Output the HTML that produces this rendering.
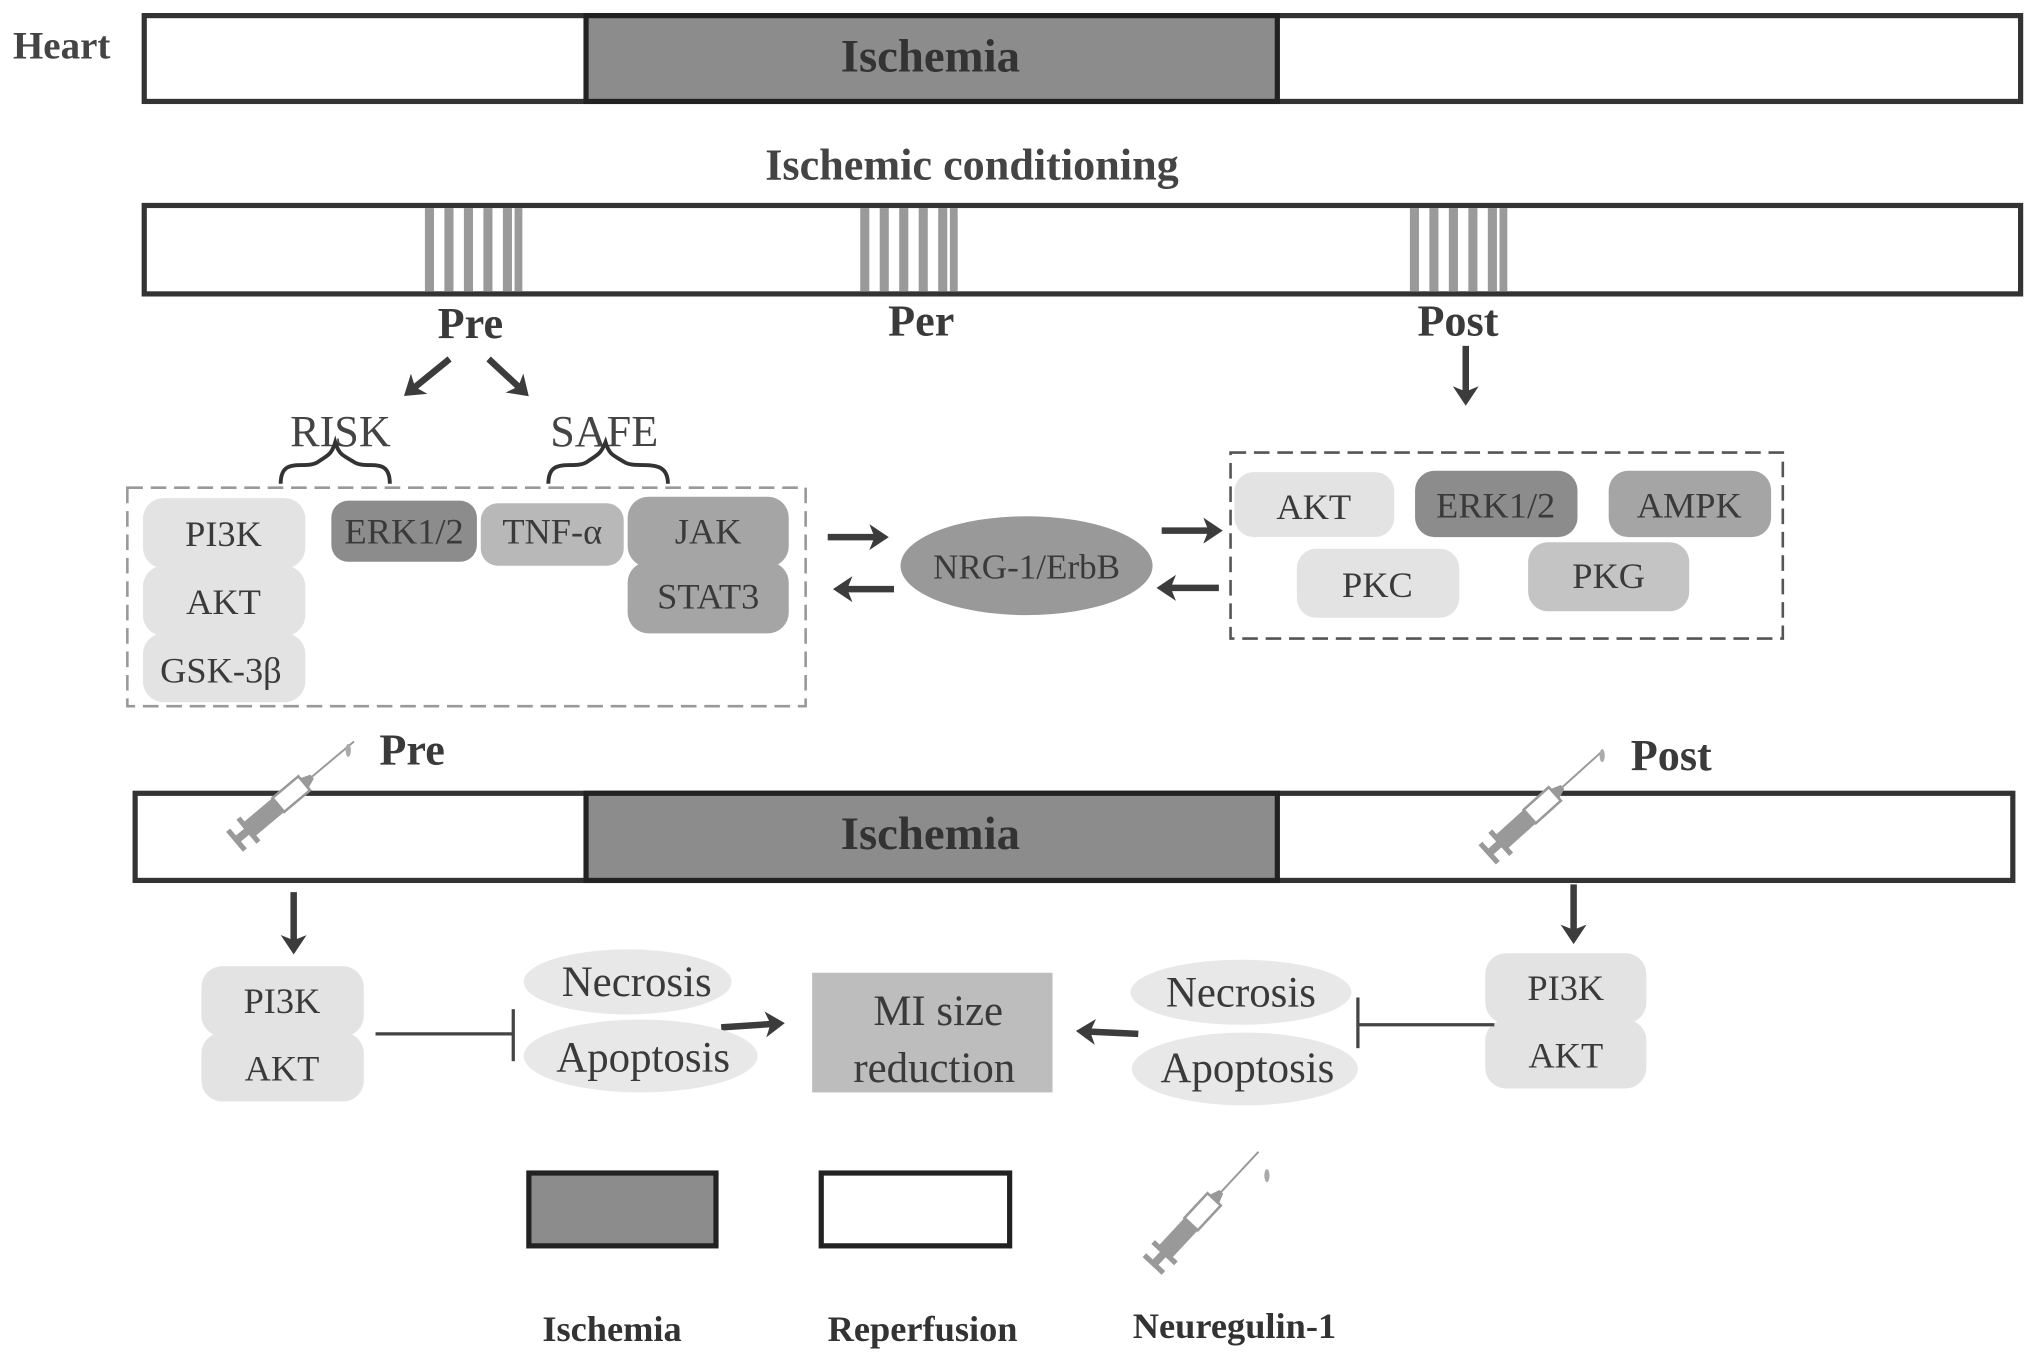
<!DOCTYPE html>
<html><head><meta charset="utf-8"><style>html,body{margin:0;padding:0;background:#fff}svg{display:block}</style></head>
<body>
<svg width="2031" height="1359" viewBox="0 0 1563 1045" preserveAspectRatio="none" xmlns="http://www.w3.org/2000/svg" font-family="Liberation Serif, serif">
<defs>
<marker id="ah" markerWidth="4" markerHeight="4" refX="2.2" refY="2" orient="auto" markerUnits="strokeWidth"><path d="M0,0 L3,2 L0,4 L0.8,2 Z" fill="#3c3c3c"/></marker>
<g id="syr">
<line x1="0" y1="-10" x2="0" y2="10" stroke="#999" stroke-width="4"/>
<rect x="0" y="-3" width="12" height="6" fill="#999"/>
<line x1="12" y1="-12" x2="12" y2="12" stroke="#999" stroke-width="4"/>
<rect x="12" y="-7" width="30" height="14" fill="#999"/>
<rect x="42" y="-7" width="26" height="14" fill="#fff" stroke="#999" stroke-width="2"/>
<path d="M68,-5 L76,-2 L76,2 L68,5 Z" fill="#999"/>
<line x1="76" y1="0" x2="118" y2="0" stroke="#999" stroke-width="1.5"/>
</g>
</defs>
<g fill="none" stroke="#333">
</g>
<!-- Heart bar -->
<text x="10" y="45" font-size="30" font-weight="bold" fill="#444">Heart</text>
<rect x="111" y="12" width="1444" height="66" fill="#fff" stroke="#333" stroke-width="4"/>
<rect x="451" y="12" width="532" height="66" fill="#8c8c8c" stroke="#222" stroke-width="4"/>
<text x="716" y="55" font-size="36" font-weight="bold" text-anchor="middle" fill="#333">Ischemia</text>

<text x="748" y="138" font-size="34" font-weight="bold" text-anchor="middle" fill="#444">Ischemic conditioning</text>
<rect x="111" y="158" width="1444" height="68" fill="#fff" stroke="#333" stroke-width="4"/>
<g fill="#9a9a9a">
<rect x="327" y="160" width="7" height="64"/><rect x="342" y="160" width="7" height="64"/><rect x="357" y="160" width="7" height="64"/><rect x="372" y="160" width="7" height="64"/><rect x="387" y="160" width="7" height="64"/><rect x="396" y="160" width="6" height="64"/>
<rect x="662" y="160" width="7" height="64"/><rect x="677" y="160" width="7" height="64"/><rect x="692" y="160" width="7" height="64"/><rect x="707" y="160" width="7" height="64"/><rect x="722" y="160" width="7" height="64"/><rect x="731" y="160" width="6" height="64"/>
<rect x="1085" y="160" width="7" height="64"/><rect x="1100" y="160" width="7" height="64"/><rect x="1115" y="160" width="7" height="64"/><rect x="1130" y="160" width="7" height="64"/><rect x="1145" y="160" width="7" height="64"/><rect x="1154" y="160" width="6" height="64"/>
</g>
<g font-size="34" font-weight="bold" fill="#3a3a3a" text-anchor="middle">
<text x="362" y="260">Pre</text><text x="709" y="258">Per</text><text x="1122" y="258">Post</text>
</g>
<g stroke="#3c3c3c" stroke-width="5" marker-end="url(#ah)" fill="none">
<line x1="346" y1="276" x2="314" y2="302"/>
<line x1="376" y1="276" x2="404" y2="302"/>
<line x1="1128" y1="266" x2="1128" y2="308"/>
<line x1="637" y1="413" x2="680" y2="413"/>
<line x1="688" y1="453" x2="645" y2="453"/>
<line x1="894" y1="408" x2="937" y2="408"/>
<line x1="938" y1="452" x2="894" y2="452"/>
<line x1="226" y1="686" x2="226" y2="730"/>
<line x1="1211" y1="680" x2="1211" y2="722"/>
<line x1="555" y1="790" x2="600" y2="787"/>
<line x1="876" y1="795" x2="832" y2="793"/>
</g>
<g font-size="34" fill="#444" text-anchor="middle"><text x="262" y="343">RISK</text><text x="465" y="343">SAFE</text></g>
<g fill="none" stroke="#333" stroke-width="3">
<path d="M216,372 C216,350 235,362 245,355 C252,350 255,350 258,340 C261,350 264,350 272,355 C282,362 300,350 300,372"/>
<path d="M422,372 C422,350 442,362 452,355 C459,350 462,350 466,340 C469,350 472,350 480,355 C490,362 514,350 514,372"/>
</g>
<rect x="98" y="375" width="522" height="168" fill="none" stroke="#999" stroke-width="2" stroke-dasharray="12 6"/>
<rect x="947" y="348" width="425" height="143" fill="none" stroke="#555" stroke-width="2" stroke-dasharray="12 6"/>
<g>
<rect x="110" y="383" width="125" height="54" rx="16" fill="#e3e3e3"/>
<rect x="110" y="435" width="125" height="54" rx="16" fill="#e3e3e3"/>
<rect x="110" y="487" width="125" height="53" rx="16" fill="#e3e3e3"/>
<rect x="255" y="385" width="112" height="47" rx="13" fill="#8c8c8c"/>
<rect x="370" y="387" width="110" height="48" rx="13" fill="#b8b8b8"/>
<rect x="483" y="382" width="124" height="54" rx="16" fill="#a5a5a5"/>
<rect x="483" y="432" width="124" height="55" rx="16" fill="#a5a5a5"/>
<ellipse cx="790" cy="435" rx="97" ry="38" fill="#999"/>
<rect x="950" y="363" width="123" height="50" rx="15" fill="#e3e3e3"/>
<rect x="1089" y="362" width="125" height="51" rx="15" fill="#8c8c8c"/>
<rect x="1238" y="362" width="125" height="51" rx="15" fill="#a5a5a5"/>
<rect x="998" y="422" width="125" height="53" rx="15" fill="#e3e3e3"/>
<rect x="1176" y="417" width="124" height="53" rx="15" fill="#c4c4c4"/>
</g>
<g font-size="28" fill="#3a3a3a" text-anchor="middle">
<text x="172" y="420">PI3K</text><text x="172" y="472">AKT</text><text x="170" y="525">GSK-3β</text>
<text x="311" y="418">ERK1/2</text><text x="425" y="418">TNF-α</text>
<text x="545" y="418">JAK</text><text x="545" y="468">STAT3</text>
<text x="790" y="445" font-size="27">NRG-1/ErbB</text>
<text x="1011" y="399">AKT</text><text x="1151" y="398">ERK1/2</text><text x="1300" y="398">AMPK</text>
<text x="1060" y="459">PKC</text><text x="1238" y="452">PKG</text>
</g>
<text x="292" y="588" font-size="34" font-weight="bold" fill="#3a3a3a">Pre</text>
<text x="1255" y="592" font-size="34" font-weight="bold" fill="#3a3a3a">Post</text>
<rect x="104" y="610" width="1445" height="67" fill="#fff" stroke="#333" stroke-width="4"/>
<rect x="451" y="610" width="532" height="67" fill="#8c8c8c" stroke="#222" stroke-width="4"/>
<text x="716" y="653" font-size="36" font-weight="bold" text-anchor="middle" fill="#333">Ischemia</text>
<use href="#syr" transform="translate(182,646) rotate(-40)"/>
<ellipse cx="268" cy="577" rx="2" ry="5" fill="#aaa"/>
<use href="#syr" transform="translate(1146,656) rotate(-42)"/>
<ellipse cx="1233" cy="581" rx="2" ry="5" fill="#aaa"/>
<use href="#syr" transform="translate(888,972) rotate(-47)"/>
<ellipse cx="975" cy="904" rx="2" ry="5" fill="#aaa"/>
<g>
<rect x="155" y="743" width="125" height="54" rx="16" fill="#e3e3e3"/>
<rect x="155" y="794" width="125" height="53" rx="16" fill="#e3e3e3"/>
<rect x="1143" y="733" width="124" height="54" rx="16" fill="#e3e3e3"/>
<rect x="1143" y="784" width="124" height="53" rx="16" fill="#e3e3e3"/>
<ellipse cx="483" cy="755" rx="80" ry="25" fill="#e8e8e8"/>
<ellipse cx="493" cy="812" rx="90" ry="28" fill="#e8e8e8"/>
<ellipse cx="955" cy="763" rx="85" ry="25" fill="#e8e8e8"/>
<ellipse cx="958" cy="822" rx="87" ry="28" fill="#e8e8e8"/>
<rect x="625" y="748" width="185" height="92" fill="#bdbdbd"/>
</g>
<g stroke="#444" stroke-width="2.5">
<line x1="289" y1="795" x2="395" y2="795"/><line x1="395" y1="776" x2="395" y2="816"/>
<line x1="1150" y1="788" x2="1045" y2="788"/><line x1="1045" y1="767" x2="1045" y2="806"/>
</g>
<g font-size="28" fill="#3a3a3a" text-anchor="middle">
<text x="217" y="779">PI3K</text><text x="217" y="831">AKT</text>
<text x="1205" y="769">PI3K</text><text x="1205" y="821">AKT</text>
</g>
<g font-size="33" fill="#3a3a3a" text-anchor="middle">
<text x="490" y="766">Necrosis</text><text x="495" y="824">Apoptosis</text>
<text x="955" y="774">Necrosis</text><text x="960" y="832">Apoptosis</text>
<text x="722" y="788">MI size</text><text x="719" y="832">reduction</text>
</g>
<rect x="407" y="902" width="144" height="56" fill="#8c8c8c" stroke="#222" stroke-width="4"/>
<rect x="632" y="902" width="145" height="56" fill="#fff" stroke="#222" stroke-width="4"/>
<g font-size="28" font-weight="bold" fill="#333" text-anchor="middle">
<text x="471" y="1031">Ischemia</text><text x="710" y="1031">Reperfusion</text><text x="950" y="1029">Neuregulin-1</text>
</g>
</svg>
</body></html>
